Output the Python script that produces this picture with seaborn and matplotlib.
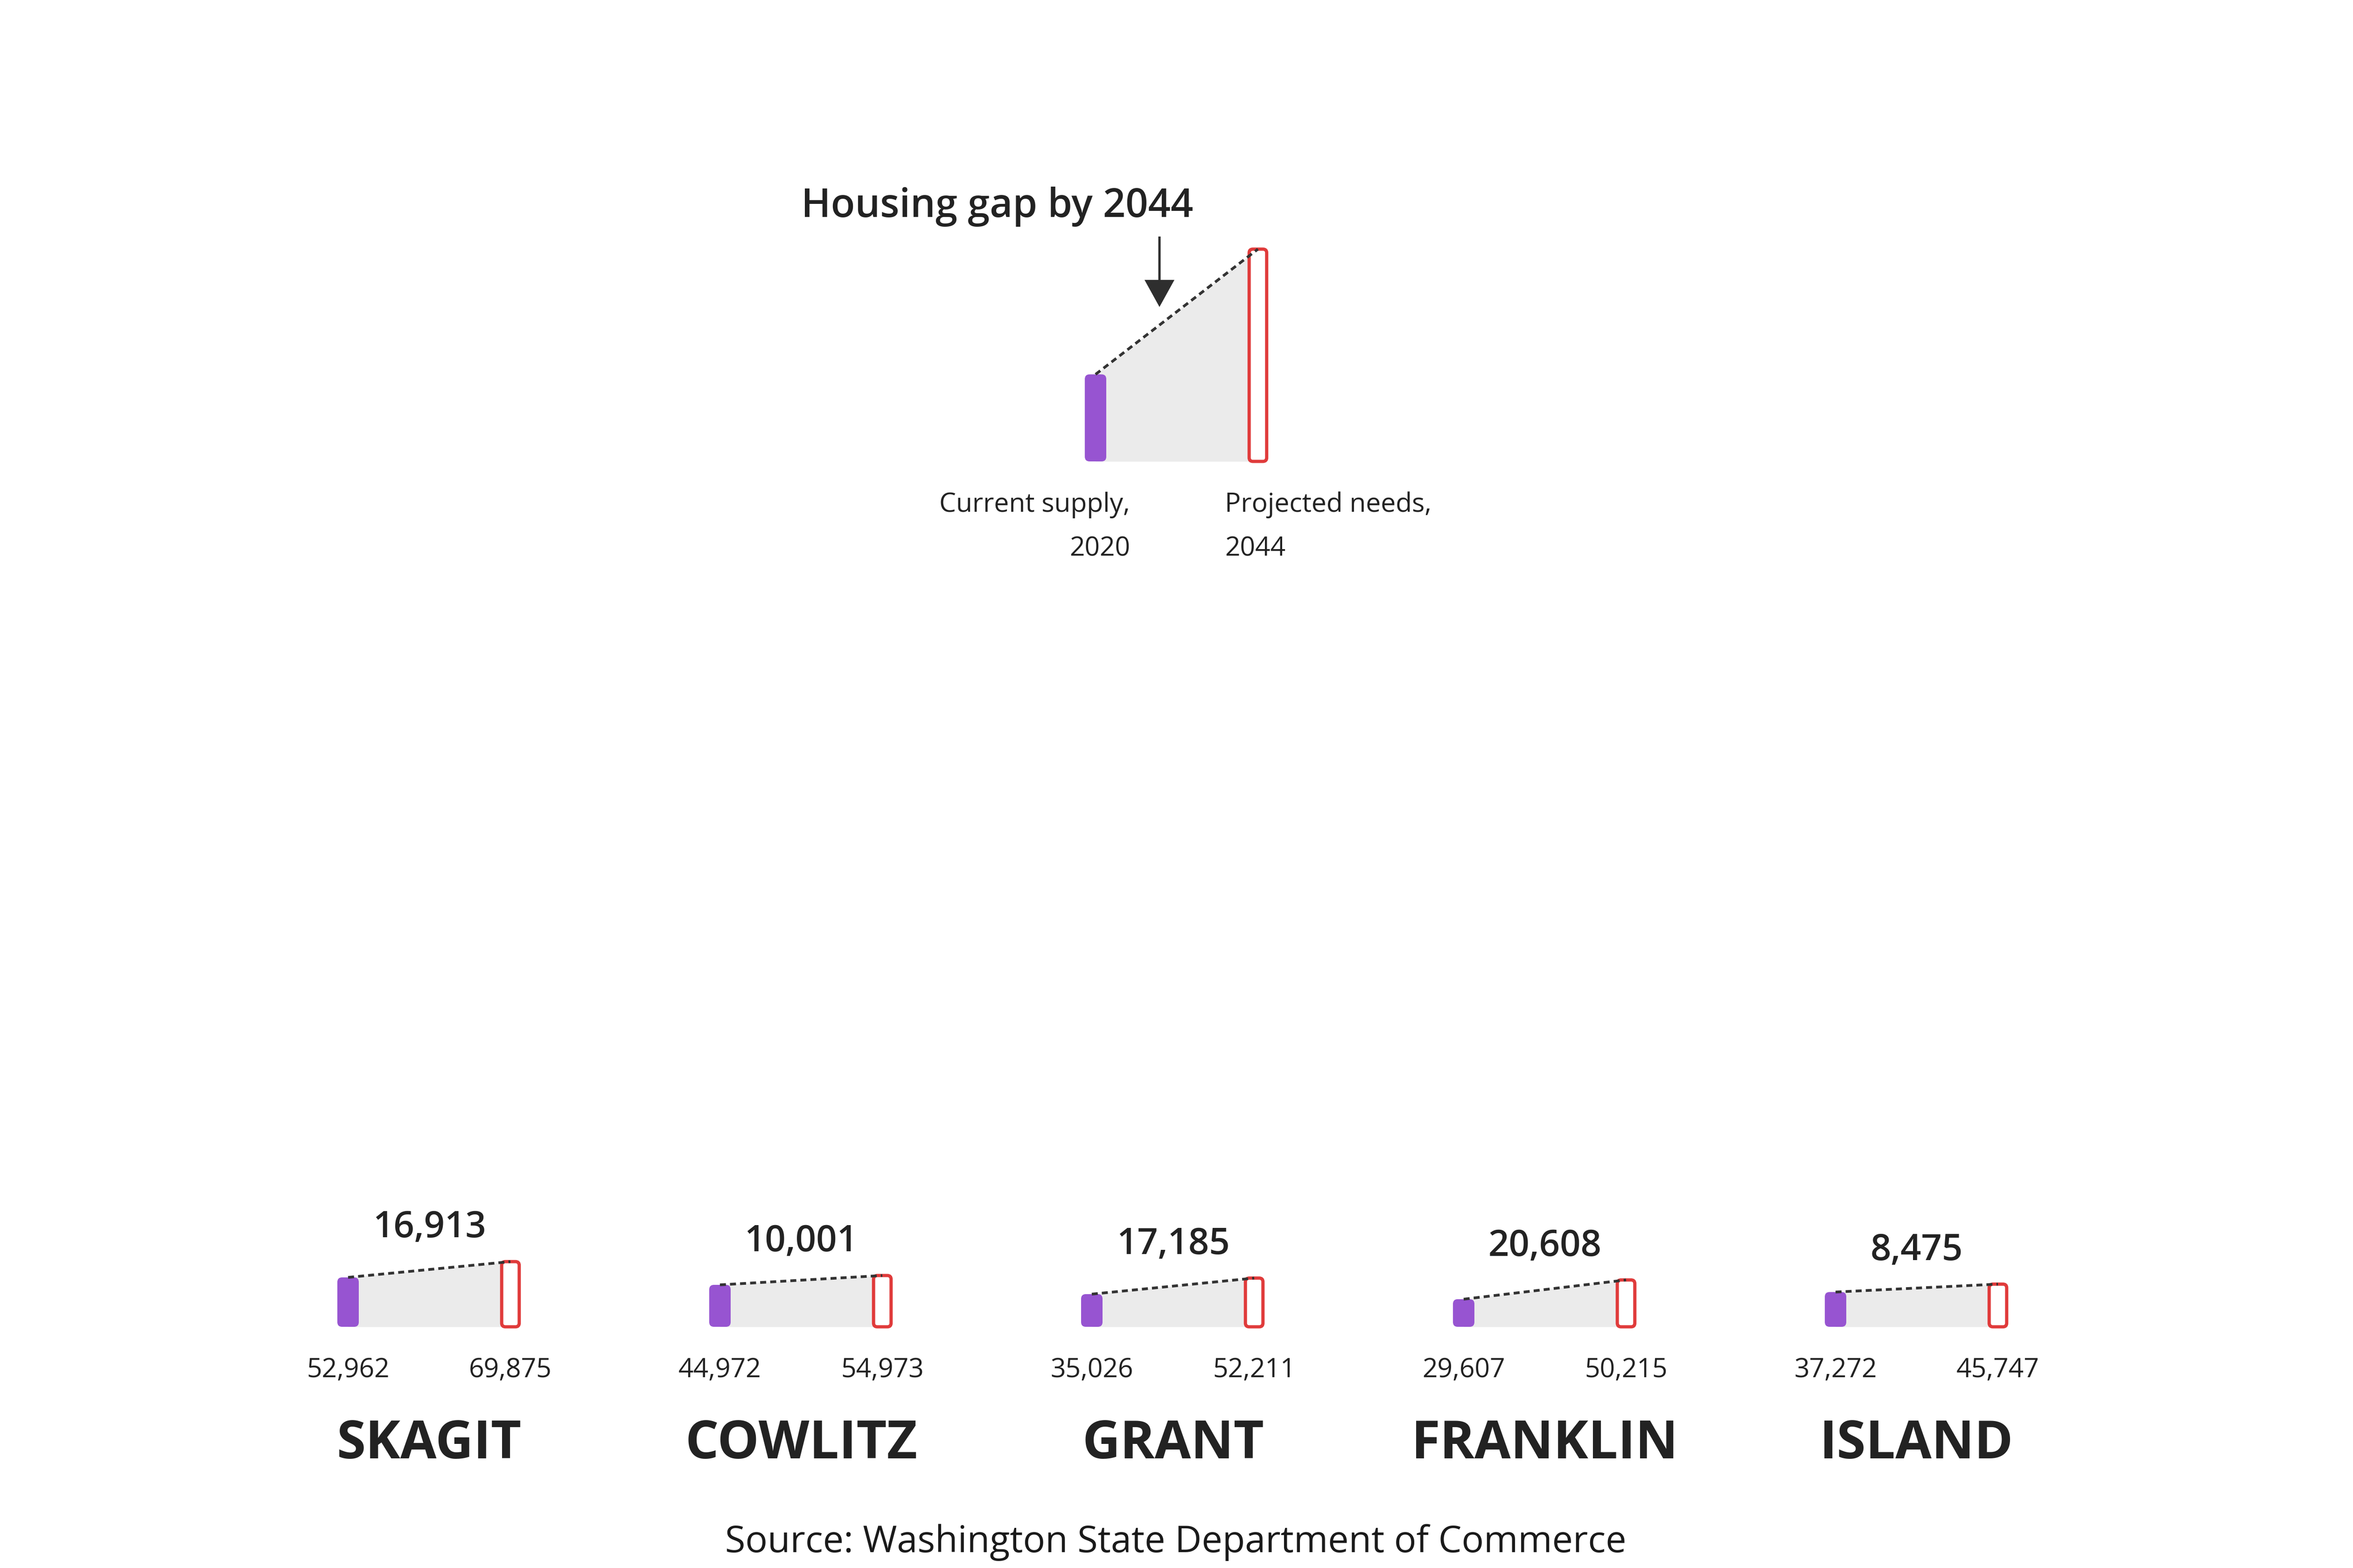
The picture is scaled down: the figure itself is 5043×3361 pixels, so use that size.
import matplotlib
matplotlib.use("Agg")
import matplotlib.pyplot as plt
from matplotlib.patches import FancyBboxPatch, FancyArrow
import seaborn as sns

# ---------------- data ----------------
counties = ["SKAGIT", "COWLITZ", "GRANT", "FRANKLIN", "ISLAND"]
current_supply_2020 = [52962, 44972, 35026, 29607, 37272]
projected_needs_2044 = [69875, 54973, 52211, 50215, 45747]

# legend example (relative heights, illustrative)
legend_values = [41, 100]
legend_labels_left = ["Current supply,", "2020"]
legend_labels_right = ["Projected needs,", "2044"]
title_text = "Housing gap by 2044"
source_text = "Source: Washington State Department of Commerce"

# ---------------- style ----------------
sns.set_theme(style="white")
plt.rcParams["font.family"] = ["Open Sans", "DejaVu Sans"]

PURPLE = "#9754D1"
RED = "#E03B3B"
GRAY = "#EBEBEB"
DASH = "#333333"
TXT = "#222222"

W, H, DPI = 5043, 3362, 100
PT = 72 / DPI          # points per pixel
XPX = 348              # pixels per x data unit (bar-center spacing)

fig = plt.figure(figsize=(W / DPI, H / DPI), dpi=DPI)
fig.patch.set_facecolor("white")


def make_axes(left_px, base_px_from_top, ytop, ypx_per_unit):
    width_px = 2.2 * XPX
    height_px = ytop * ypx_per_unit
    bottom_px = H - base_px_from_top
    ax = fig.add_axes([left_px / W, bottom_px / H, width_px / W, height_px / H])
    ax.set_xlim(-0.6, 1.6)
    ax.set_ylim(0, ytop)
    ax.set_axis_off()
    return ax


def draw_pair(ax, v0, v1, ypx_per_unit):
    aspect = (1.0 / ypx_per_unit) * XPX
    ax.fill_between([0, 1], [0, 0], [v0, v1], color=GRAY, lw=0, zorder=1)
    ax.add_patch(FancyBboxPatch((-0.066, 0), 0.132, v0,
                                boxstyle=f"round,pad=0,rounding_size={10 / XPX}",
                                mutation_aspect=aspect, fc=PURPLE, ec="none",
                                zorder=2, clip_on=False))
    ax.add_patch(FancyBboxPatch((1 - 0.054, 0), 0.108, v1,
                                boxstyle=f"round,pad=0,rounding_size={8 / XPX}",
                                mutation_aspect=aspect, fc="white", ec=RED,
                                lw=5.0, zorder=2, clip_on=False))
    sns.lineplot(x=[0, 1], y=[v0, v1], ax=ax, color=DASH, lw=4.2,
                 linestyle=(0, (2.2, 1.5)), zorder=4, legend=False)
    for ln in ax.lines:
        ln.set_clip_on(False)


# ---------------- legend (explainer) ----------------
leg_ypx = 4.55
leg_ax = make_axes(2348 - 0.6 * XPX, 990, 120, leg_ypx)
draw_pair(leg_ax, legend_values[0], legend_values[1], leg_ypx)

for i, lab in enumerate(legend_labels_left):
    leg_ax.annotate(lab, xy=(0, 0), xytext=(74 * PT, -(107 + 94 * i) * PT),
                    textcoords="offset points", ha="right", va="baseline",
                    fontsize=41, color=TXT, annotation_clip=False)
for i, lab in enumerate(legend_labels_right):
    leg_ax.annotate(lab, xy=(1, 0), xytext=(-71 * PT, -(107 + 94 * i) * PT),
                    textcoords="offset points", ha="left", va="baseline",
                    fontsize=41, color=TXT, annotation_clip=False)

fig.text(2137 / W, 1 - 465 / H, title_text, ha="center", va="baseline",
         fontsize=61, fontweight="semibold", color=TXT)

fig.add_artist(FancyArrow(2485 / DPI, (H - 508) / DPI, 0, -(659 - 508) / DPI,
                          width=0.05, head_width=0.64, head_length=0.58,
                          length_includes_head=True,
                          transform=fig.dpi_scale_trans,
                          color="#2E2E2E", lw=0))

# ---------------- county small multiples ----------------
cty_ypx = 0.002
for i, (name, v0, v1) in enumerate(zip(counties, current_supply_2020,
                                        projected_needs_2044)):
    cx = 920 + 797 * i
    ax = make_axes(cx - 174 - 0.6 * XPX, 2845, 150000, cty_ypx)
    draw_pair(ax, v0, v1, cty_ypx)
    ax.annotate(f"{v1 - v0:,}", xy=(0.5, v1), xytext=(0, 53 * PT),
                textcoords="offset points", ha="center", va="baseline",
                fontsize=56, fontweight="semibold", color=TXT,
                annotation_clip=False)
    for xpos, val in ((0, v0), (1, v1)):
        ax.annotate(f"{val:,}", xy=(xpos, 0), xytext=(0, -107 * PT),
                    textcoords="offset points", ha="center", va="baseline",
                    fontsize=41, color=TXT, annotation_clip=False)
    ax.annotate(name, xy=(0.5, 0), xytext=(0, -281 * PT),
                textcoords="offset points", ha="center", va="baseline",
                fontsize=81, fontweight="bold", color=TXT,
                annotation_clip=False)

fig.text(2520 / W, 1 - 3327 / H, source_text, ha="center", va="baseline",
         fontsize=57, color="#1A1A1A")

fig.savefig("out.png", dpi=DPI, facecolor="white")
